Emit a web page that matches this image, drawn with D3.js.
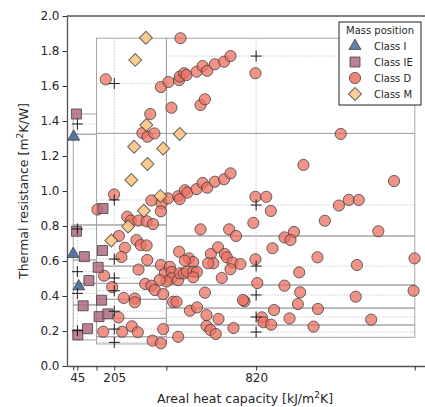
<!DOCTYPE html>
<html>
<head>
<meta charset="utf-8">
<script src="https://cdn.jsdelivr.net/npm/d3@7"></script>
<style>
  body { margin: 0; background: #fff; }
  svg text { font-family: "DejaVu Sans", sans-serif; fill: #262626; }
</style>
</head>
<body>
<svg id="chart"></svg>
<script>
// values: [areal heat capacity kJ/m2K, thermal resistance m2K/W]
const classNames = ["Class I", "Class IE", "Class D", "Class M"];

const classI = [[29, 1.31], [27, 0.64], [51, 0.455]];

const classIE = [[41, 1.44], [41, 0.77], [75, 0.625], [95, 0.488], [70, 0.344], [47, 0.178], [89, 0.213],
  [156, 0.90], [154, 0.66], [135, 0.564], [150, 0.376], [139, 0.282], [177, 0.298]];

const classD = [
  [168, 1.638], [492, 1.873], [407, 1.594], [440, 1.623], [486, 1.634], [489, 1.654], [508, 1.673], [518, 1.663],
  [562, 1.682], [588, 1.714], [608, 1.687], [641, 1.724], [681, 1.739], [709, 1.771], [817, 1.673], [453, 1.476],
  [579, 1.491], [598, 1.524], [361, 1.44], [327, 1.331], [349, 1.31], [379, 1.329], [1187, 1.326], [1025, 1.149],
  [1418, 1.057],
  [204, 0.98], [366, 0.946], [410, 0.929], [438, 0.958], [482, 0.97], [489, 0.954], [511, 1.004], [522, 0.991],
  [562, 1.011], [588, 1.046], [608, 1.019], [641, 1.053], [681, 1.067], [709, 1.101], [817, 0.967], [864, 0.967],
  [1179, 0.917], [1222, 0.949], [1265, 0.949], [132, 0.894], [407, 0.884], [884, 0.886],
  [261, 0.853], [277, 0.831], [310, 0.831], [345, 0.827], [373, 0.811], [225, 0.743], [301, 0.72], [320, 0.691],
  [345, 0.689], [251, 0.676], [579, 0.781], [703, 0.781], [733, 0.743], [808, 0.818], [1118, 0.83], [1350, 0.77],
  [984, 0.766], [943, 0.735], [969, 0.72],
  [236, 0.623], [348, 0.606], [310, 0.551], [407, 0.577], [486, 0.653], [529, 0.615], [547, 0.594], [511, 0.602],
  [624, 0.64], [655, 0.678], [684, 0.64], [693, 0.621], [634, 0.587], [612, 0.587], [718, 0.591], [752, 0.583],
  [709, 0.553], [817, 0.61], [891, 0.673], [1086, 0.621], [1257, 0.577], [1507, 0.615],
  [424, 0.53], [446, 0.567], [453, 0.537], [454, 0.501], [431, 0.483], [482, 0.491], [489, 0.53], [507, 0.529],
  [520, 0.539], [547, 0.539], [563, 0.537], [547, 0.507], [402, 0.491], [671, 0.503], [825, 0.474], [943, 0.459],
  [1007, 0.535], [1503, 0.43], [1252, 0.396], [1011, 0.421],
  [161, 0.516], [196, 0.451], [246, 0.389], [294, 0.386], [294, 0.364], [339, 0.469], [366, 0.459], [381, 0.434],
  [417, 0.411], [598, 0.419], [460, 0.367], [475, 0.367], [770, 0.37], [763, 0.377], [1001, 0.354], [1088, 0.326],
  [898, 0.32], [533, 0.316], [564, 0.335], [605, 0.291], [657, 0.269],
  [223, 0.278], [281, 0.227], [307, 0.193], [157, 0.196], [239, 0.196], [371, 0.145], [407, 0.13], [417, 0.211],
  [482, 0.167], [605, 0.229], [622, 0.206], [645, 0.183], [722, 0.217], [845, 0.278], [852, 0.25], [885, 0.236],
  [965, 0.272], [1069, 0.225], [1319, 0.265]
];

const classM = [[342, 1.876], [296, 1.749], [344, 1.377], [489, 1.326], [291, 1.253], [417, 1.243], [349, 1.154],
  [279, 1.063], [405, 0.971], [333, 0.887], [265, 0.797], [192, 0.717]];

// reference walls (+) and the ranges drawn as boxes
const refKappa = [45, 205, 820];
const groupKappa = [[27, 128], [128, 431], [431, 1508]];
const groupEdges = [
  [1.44, 1.324, 0.806, 0.606, 0.472, 0.349, 0.149],
  [1.873, 1.329, 0.806, 0.571, 0.472, 0.381, 0.272, 0.167, 0.126],
  [1.873, 1.329, 0.743, 0.463, 0.331, 0.234, 0.164]
];
const refR = [
  [1.383, 0.783, 0.539, 0.415, 0.202],
  [1.614, 0.949, 0.611, 0.503, 0.43, 0.313, 0.211, 0.135],
  [1.771, 0.92, 0.571, 0.406, 0.28, 0.194]
];

const xTicks = [27, 45, 128, 205, 431, 820, 1508];
const xTickLabels = [45, 205, 820];
const yTicks = [0, 0.2, 0.4, 0.6, 0.8, 1.0, 1.2, 1.4, 1.6, 1.8, 2.0];

const w = 425, h = 407;
const svg = d3.select("#chart").attr("width", w).attr("height", h);

const x = d3.scaleLinear().domain([0, 1600]).range([67, 436]);
const y = d3.scaleLinear().domain([0, 2]).range([366, 16]);

// boxes
const gBox = svg.append("g");
groupEdges.forEach(function(edges, gi) {
  const k = groupKappa[gi];
  for (let i = 0; i < edges.length - 1; i++) {
    gBox.append("rect")
      .attr("x", x(k[0]))
      .attr("y", y(edges[i]))
      .attr("width", x(k[1]) - x(k[0]))
      .attr("height", y(edges[i + 1]) - y(edges[i]))
      .attr("fill", "none")
      .attr("stroke", "#a6a6a6")
      .attr("stroke-width", 1);
  }
});

// dotted crosshairs through the reference walls
const gDot = svg.append("g");
refR.forEach(function(rs, gi) {
  const k = groupKappa[gi];
  const edges = groupEdges[gi];
  rs.forEach(function(r) {
    let i = 0;
    while (i < edges.length - 2 && r < edges[i + 1]) i++;
    gDot.append("line")
      .attr("x1", x(k[0])).attr("x2", x(k[1]))
      .attr("y1", y(r)).attr("y2", y(r));
    gDot.append("line")
      .attr("x1", x(refKappa[gi])).attr("x2", x(refKappa[gi]))
      .attr("y1", y(edges[i])).attr("y2", y(edges[i + 1]));
  });
});
gDot.selectAll("line")
  .attr("stroke", "#c4c4c4")
  .attr("stroke-width", 0.9)
  .attr("stroke-dasharray", "1.5,1.5");

// axes
const xAxis = d3.axisBottom(x)
  .tickValues(xTicks)
  .tickFormat(d => xTickLabels.includes(d) ? d : "")
  .tickSize(4.5).tickSizeOuter(0).tickPadding(3);
const yAxis = d3.axisLeft(y)
  .tickValues(yTicks)
  .tickFormat(d3.format(".1f"))
  .tickSize(4.5).tickSizeOuter(0).tickPadding(3);

const gx = svg.append("g").attr("transform", "translate(0,366)").call(xAxis);
const gy = svg.append("g").attr("transform", "translate(67,0)").call(yAxis);
[gx, gy].forEach(function(g) {
  g.select(".domain").attr("stroke", "#555").attr("stroke-width", 1.3);
  g.selectAll(".tick line").attr("stroke", "#333").attr("stroke-width", 1);
  g.selectAll(".tick text").attr("font-size", 12).attr("fill", "#262626")
    .attr("font-family", "DejaVu Sans, sans-serif");
});
svg.append("line")
  .attr("x1", x(0)).attr("x2", x(1600))
  .attr("y1", y(2)).attr("y2", y(2))
  .attr("stroke", "#555").attr("stroke-width", 1.3);

// markers
const colors = { I: "#46699a", IE: "#b06b80", D: "#ec7060", M: "#fcc487" };
const edge = "#3a3a3a";

svg.append("g").selectAll("circle")
  .data(classD).enter().append("circle")
  .attr("cx", d => x(d[0])).attr("cy", d => y(d[1]))
  .attr("r", 5.6)
  .attr("fill", colors.D).attr("fill-opacity", 0.75)
  .attr("stroke", edge).attr("stroke-opacity", 0.75).attr("stroke-width", 1);

const tri = d3.symbol(d3.symbolTriangle, 62);
svg.append("g").selectAll("path")
  .data(classI).enter().append("path")
  .attr("d", tri)
  .attr("transform", d => `translate(${x(d[0])},${y(d[1])})`)
  .attr("fill", colors.I).attr("fill-opacity", 0.9)
  .attr("stroke", edge).attr("stroke-opacity", 0.75);

const sq = d3.symbol(d3.symbolSquare, 100);
svg.append("g").selectAll("path")
  .data(classIE).enter().append("path")
  .attr("d", sq)
  .attr("transform", d => `translate(${x(d[0])},${y(d[1])})`)
  .attr("fill", colors.IE).attr("fill-opacity", 0.85)
  .attr("stroke", edge).attr("stroke-opacity", 0.75);

const dia = d3.symbol(d3.symbolSquare, 84);
svg.append("g").selectAll("path")
  .data(classM).enter().append("path")
  .attr("d", dia)
  .attr("transform", d => `translate(${x(d[0])},${y(d[1])}) rotate(45)`)
  .attr("fill", colors.M).attr("fill-opacity", 0.9)
  .attr("stroke", edge).attr("stroke-opacity", 0.75);

// reference walls
const plusData = [];
refR.forEach((rs, gi) => rs.forEach(r => plusData.push([refKappa[gi], r])));
svg.append("g").selectAll("path")
  .data(plusData).enter().append("path")
  .attr("d", "M-5.5,0H5.5M0,-5.5V5.5")
  .attr("transform", d => `translate(${x(d[0])},${y(d[1])})`)
  .attr("stroke", "#1a1a1a").attr("stroke-width", 1).attr("fill", "none");

// axis labels
svg.append("text")
  .attr("x", 245).attr("y", 403)
  .attr("text-anchor", "middle").attr("font-size", 12.5)
  .html('Areal heat capacity [kJ/m<tspan dy="-5" font-size="9">2</tspan><tspan dy="5">K]</tspan>');
svg.append("text")
  .attr("transform", "translate(28,191) rotate(-90)")
  .attr("text-anchor", "middle").attr("font-size", 12.5)
  .html('Thermal resistance [m<tspan dy="-5" font-size="9">2</tspan><tspan dy="5">K/W]</tspan>');

// legend
const lg = svg.append("g").attr("transform", "translate(339,22)");
lg.append("rect").attr("width", 82).attr("height", 83)
  .attr("fill", "#fff").attr("stroke", "#222").attr("stroke-width", 1);
lg.append("text").attr("x", 41).attr("y", 12).attr("text-anchor", "middle")
  .attr("font-size", 10).text("Mass position");
const legendSyms = [
  { sym: tri, fill: colors.I, rot: 0 },
  { sym: sq, fill: colors.IE, rot: 0 },
  { sym: d3.symbol(d3.symbolCircle, 99), fill: colors.D, rot: 0 },
  { sym: dia, fill: colors.M, rot: 45 }
];
classNames.forEach(function(name, i) {
  const it = legendSyms[i];
  const cy = 24 + i * 16;
  lg.append("path").attr("d", it.sym)
    .attr("transform", `translate(16,${cy}) rotate(${it.rot})`)
    .attr("fill", it.fill).attr("fill-opacity", 0.85)
    .attr("stroke", edge).attr("stroke-opacity", 0.75);
  lg.append("text").attr("x", 35).attr("y", cy + 3.6).attr("font-size", 10).text(name);
});
</script>
</body>
</html>
